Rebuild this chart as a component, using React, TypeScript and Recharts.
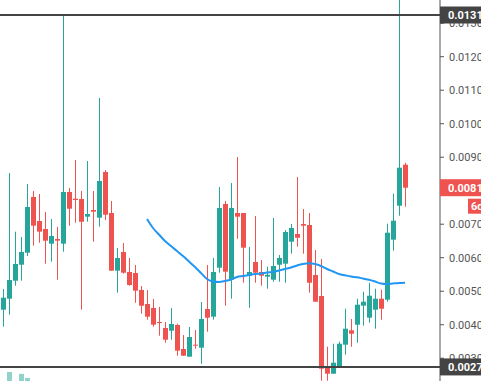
import React from 'react'
import { ComposedChart, Bar, Line, XAxis, YAxis, ReferenceLine } from 'recharts'

// OHLC per candle (oldest -> newest)
const opens = [
  0.004448, 0.004777, 0.005314, 0.005792, 0.00615, 0.007813, 0.007096, 0.006857, 0.006419, 0.006559,
  0.006419, 0.007962, 0.007762, 0.007753, 0.007225, 0.007424, 0.007195, 0.008559, 0.007335, 0.005613,
  0.006171, 0.005574, 0.005544, 0.005036, 0.004619, 0.004499, 0.004081, 0.003902, 0.003822, 0.003992,
  0.003275, 0.003046, 0.003404, 0.003314, 0.004469, 0.00424, 0.005702, 0.007604, 0.005344, 0.007335,
  0.007335, 0.005463, 0.005872, 0.005574, 0.005433, 0.005344, 0.005792, 0.005822, 0.006478, 0.006708,
  0.007007, 0.006977, 0.005484, 0.004857, 0.002717, 0.002538, 0.002747, 0.003404, 0.003834, 0.004001,
  0.004568, 0.00421, 0.004448, 0.004777, 0.004747, 0.006538, 0.007553, 0.008777,
]
const highs = [
  0.005066, 0.008529, 0.006777, 0.006619, 0.008201, 0.007992, 0.007902, 0.007365, 0.007156, 0.006917,
  0.013245, 0.008081, 0.008917, 0.007992, 0.008887, 0.007992, 0.010768, 0.008618, 0.007693, 0.00629,
  0.006439, 0.005992, 0.005783, 0.005156, 0.005036, 0.004768, 0.004529, 0.004081, 0.004499, 0.004031,
  0.003693, 0.003932, 0.003843, 0.004678, 0.005783, 0.005992, 0.008111, 0.007693, 0.00823, 0.009007,
  0.007335, 0.00632, 0.007245, 0.005932, 0.005732, 0.007186, 0.006081, 0.006827, 0.007007, 0.00841,
  0.007454, 0.007335, 0.00623, 0.005962, 0.003344, 0.003433, 0.003493, 0.004478, 0.004171, 0.004777,
  0.004986, 0.005254, 0.005075, 0.005045, 0.007016, 0.007911, 0.0142, 0.008836,
]
const lows = [
  0.003941, 0.004299, 0.005165, 0.005314, 0.006051, 0.006359, 0.006448, 0.005822, 0.005881, 0.005344,
  0.00618, 0.006956, 0.007045, 0.004448, 0.007075, 0.006478, 0.006926, 0.007126, 0.005613, 0.004956,
  0.005523, 0.005165, 0.004657, 0.004329, 0.00415, 0.003941, 0.003672, 0.003463, 0.003553, 0.003075,
  0.003075, 0.003046, 0.003284, 0.002837, 0.003792, 0.00415, 0.005553, 0.004568, 0.004777, 0.006568,
  0.005254, 0.004508, 0.005254, 0.005165, 0.005075, 0.005284, 0.005284, 0.005254, 0.00612, 0.006329,
  0.00612, 0.004956, 0.004687, 0.002329, 0.002329, 0.002538, 0.002747, 0.003105, 0.003344, 0.003463,
  0.003971, 0.00406, 0.003881, 0.00415, 0.004687, 0.00621, 0.007254, 0.007523,
]
const closes = [
  0.004807, 0.005335, 0.005813, 0.006171, 0.007514, 0.006956, 0.006777, 0.006508, 0.006648, 0.006508,
  0.007962, 0.007463, 0.007723, 0.007075, 0.007305, 0.007374, 0.00829, 0.007284, 0.005613, 0.005992,
  0.005553, 0.005186, 0.005016, 0.004568, 0.00424, 0.004001, 0.004051, 0.003553, 0.004022, 0.003225,
  0.003075, 0.003633, 0.003374, 0.004171, 0.00421, 0.005574, 0.007484, 0.005583, 0.007484, 0.007225,
  0.006299, 0.005574, 0.005553, 0.005463, 0.005493, 0.005753, 0.005992, 0.006768, 0.006887, 0.006598,
  0.006956, 0.005254, 0.004687, 0.002687, 0.002538, 0.002866, 0.003433, 0.003881, 0.003732, 0.004598,
  0.004687, 0.004866, 0.004777, 0.004478, 0.006747, 0.007105, 0.008687, 0.00809,
]
// moving average, starts at candle 24
const movingAvg = [
  ...Array(24).fill(null),
  0.007155, 0.006887, 0.006693, 0.006499, 0.006349, 0.0062, 0.006051, 0.005887, 0.005722, 0.005543,
  0.005364, 0.00529, 0.005275, 0.005304, 0.005349, 0.005424, 0.005454, 0.005484, 0.005513, 0.005528,
  0.005558, 0.005573, 0.005618, 0.005663, 0.005707, 0.005767, 0.005812, 0.005833, 0.005812, 0.005752,
  0.005663, 0.005588, 0.005513, 0.005475, 0.005439, 0.005415, 0.005379, 0.005343, 0.00529, 0.00523,
  0.005215, 0.00523, 0.005245, 0.005254,
]
// volume (K), only the tallest bars reach into view
const volumes = [null, 95, null, 75, 32, ...Array(63).fill(null)]

const priceTicks = [0.003, 0.004, 0.005, 0.006, 0.007, 0.008, 0.009, 0.01, 0.011, 0.012, 0.013]
const levelValues = [0.013245, 0.00274]
const levelLabels = ['0.0131', '0.0027']
const countdown = '6d'

const UP = '#26a69a'
const DOWN = '#ef5350'
const PRICE_DOMAIN: [number, number] = [0.00232, 0.013693]

const data = opens.map((o, i) => ({
  i,
  o,
  h: highs[i],
  l: lows[i],
  c: closes[i],
  range: [lows[i], highs[i]],
  ma: movingAvg[i],
  vol: volumes[i],
}))

const lastClose = closes[closes.length - 1]

function Candle(props: any) {
  const { x, y, height, payload } = props
  if (!payload) return null
  const { o, h, l, c } = payload
  const color = c >= o ? UP : DOWN
  const top0 = Math.min(y, y + height)
  const hgt = Math.abs(height)
  const k = h - l > 0 ? hgt / (h - l) : 0
  const py = (v: number) => top0 + (h - v) * k
  const bx = Math.floor(x)
  const bTop = py(Math.max(o, c))
  const bBot = py(Math.min(o, c))
  return (
    <g>
      <rect x={bx + 2} y={top0} width={1} height={hgt} fill={color} />
      <rect x={bx} y={bTop} width={5} height={Math.max(bBot - bTop, 1)} fill={color} />
    </g>
  )
}

function VolBar(props: any) {
  const { x, y, height } = props
  if (!height) return null
  return <rect x={Math.floor(x)} y={y} width={5} height={height} fill={UP} fillOpacity={0.5} />
}

// price tag drawn on the right scale
function tag(text: string, bg: string, extra?: string) {
  return (props: any) => {
    const vb = props.viewBox
    if (!vb) return null
    const x = vb.x + vb.width
    const y = vb.y
    return (
      <g>
        <rect x={x} y={y - 8.5} width={41} height={17} fill={bg} />
        <text x={x + 8} y={y} dy="0.36em" fill="#fff" fontSize={11} fontWeight="bold">
          {text}
        </text>
        {extra && (
          <g>
            <rect x={x + 28} y={y + 11} width={20} height={15} fill={bg} />
            <text x={x + 31} y={y + 18.5} dy="0.36em" fill="#fff" fontSize={11} fontWeight="bold">
              {extra}
            </text>
          </g>
        )}
      </g>
    )
  }
}

export default function App() {
  const layer: React.CSSProperties = { position: 'absolute', left: 0, top: 0 }
  return (
    <div
      style={{
        position: 'fixed',
        left: 0,
        top: 0,
        width: 481,
        height: 381,
        overflow: 'hidden',
        background: '#fff',
        fontFamily: 'Roboto, "Liberation Sans", sans-serif',
      }}
    >
      <div style={layer}>
        <ComposedChart width={481} height={381} data={data} margin={{ top: 0, right: 0, bottom: 0, left: 0 }}>
          <XAxis dataKey="i" type="category" hide padding={{ left: 0, right: 32 }} />
          <XAxis dataKey="i" type="category" xAxisId="vol" hide padding={{ left: 0, right: 32 }} />
          <YAxis yAxisId="vol" hide domain={[0, 4000]} allowDataOverflow />
          <Bar
            dataKey="vol"
            xAxisId="vol"
            yAxisId="vol"
            barSize={5}
            shape={<VolBar />}
            isAnimationActive={false}
          />
          <Bar dataKey="range" barSize={5} shape={<Candle />} isAnimationActive={false} />
          <Line
            dataKey="ma"
            type="monotone"
            stroke="#2196f3"
            strokeWidth={2}
            dot={false}
            activeDot={false}
            isAnimationActive={false}
          />
          <YAxis
            orientation="right"
            width={41}
            domain={PRICE_DOMAIN}
            allowDataOverflow
            ticks={priceTicks}
            interval={0}
            tickFormatter={(v: number) => v.toFixed(4)}
            tickSize={4}
            tickMargin={5}
            stroke="#555"
            tick={{ fill: '#555', fontSize: 11 }}
            axisLine={{ stroke: '#555' }}
            tickLine={{ stroke: '#555' }}
          />
        </ComposedChart>
      </div>
      {/* levels and price tags on top of the scale */}
      <div style={layer}>
        <ComposedChart width={481} height={381} data={data} margin={{ top: 0, right: 41, bottom: 0, left: 0 }}>
          <XAxis dataKey="i" type="category" hide padding={{ left: 0, right: 32 }} />
          <YAxis hide domain={PRICE_DOMAIN} allowDataOverflow />
          {levelValues.map((v, idx) => (
            <ReferenceLine
              key={idx}
              y={v}
              stroke="#444"
              strokeWidth={2}
              label={tag(levelLabels[idx], '#444')}
            />
          ))}
          <ReferenceLine y={lastClose} stroke="none" label={tag(lastClose.toFixed(4), DOWN, countdown)} />
        </ComposedChart>
      </div>
    </div>
  )
}
